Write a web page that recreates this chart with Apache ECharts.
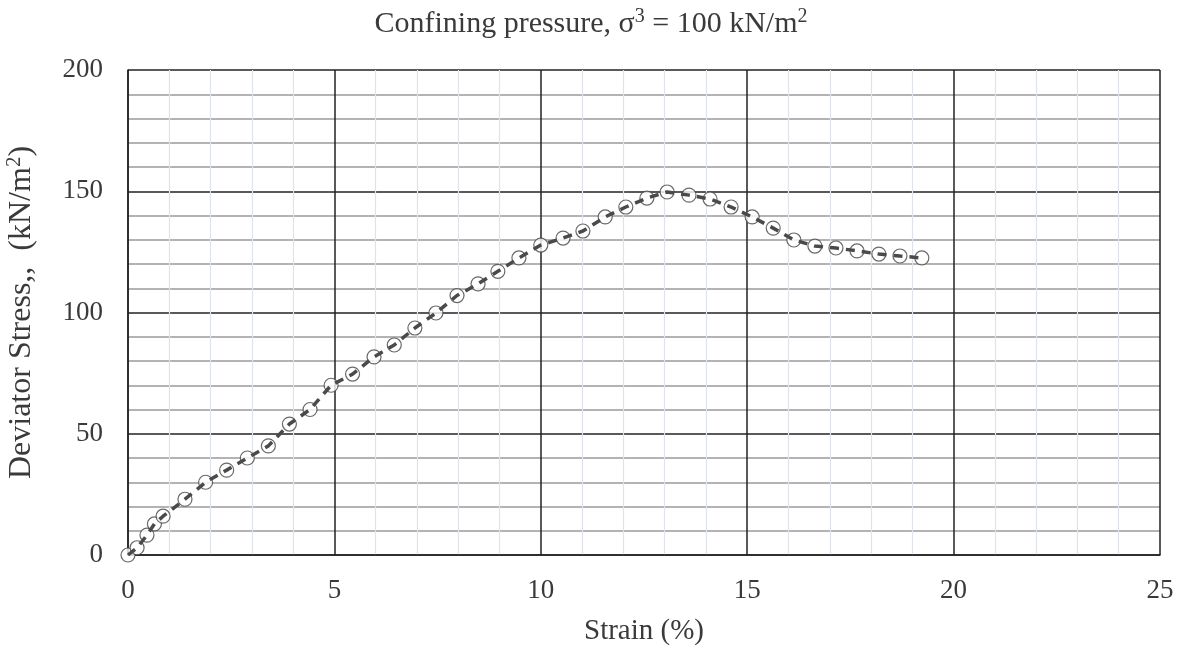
<!DOCTYPE html>
<html>
<head>
    <meta charset="utf-8">
    <title>ECharts</title>
    <script src="https://cdn.jsdelivr.net/npm/echarts@6/dist/echarts.min.js"></script>
</head>
<body style="margin:0; background:#fff;">
    <div id="main" style="width:1182px; height:653px;"></div>
    <script>
        // strain (%) and deviator stress (kN/m2)
        var strain = [0, 0.22, 0.46, 0.64, 0.85, 1.38, 1.88, 2.39, 2.89, 3.4,
            3.91, 4.41, 4.92, 5.44, 5.96, 6.45, 6.95, 7.46, 7.97, 8.48,
            8.96, 9.47, 10.0, 10.54, 11.02, 11.56, 12.06, 12.57, 13.06, 13.59,
            14.1, 14.61, 15.12, 15.63, 16.13, 16.64, 17.15, 17.66, 18.19, 18.7, 19.23]
        var stress = [0, 3, 8.2, 12.8, 16, 23, 30, 35, 40, 45,
            54, 60, 70, 74.6, 81.7, 86.6, 93.6, 99.8, 107, 111.8,
            117, 122.5, 127.8, 130.7, 133.6, 139.4, 143.5, 147.2, 149.7, 148.4,
            146.8, 143.5, 139.4, 134.8, 129.9, 127.4, 126.6, 125.4, 124.1, 123.3, 122.5]

        var points = strain.map(function(s, i) {
            return [s, stress[i]]
        })

        var font = 'Liberation Serif'
        var textColor = '#3a3a3a'

        var myChart = echarts.init(document.querySelector('#main'))

        var option = {
            backgroundColor: '#fff',
            animation: false,
            title: {
                text: 'Confining pressure, σ{sup|3} = 100 kN/m{sup|2}',
                left: 'center',
                top: 2,
                textStyle: {
                    fontFamily: font,
                    fontWeight: 'normal',
                    fontSize: 30,
                    lineHeight: 34,
                    color: textColor,
                    rich: {
                        sup: {fontFamily: font, fontSize: 20, color: textColor, verticalAlign: 'top', lineHeight: 34, padding: [0, 0, 12, 0]}
                    }
                }
            },
            grid: {
                left: 128,
                right: 22,
                top: 70,
                bottom: 98,
                containLabel: false,
                outerBoundsMode: 'none'
            },
            xAxis: {
                type: 'value',
                min: 0,
                max: 25,
                interval: 5,
                name: 'Strain (%)',
                nameLocation: 'middle',
                nameGap: 62,
                nameTextStyle: {fontFamily: font, fontSize: 29, color: textColor},
                axisLine: {lineStyle: {color: '#222', width: 1.5}},
                axisTick: {show: false},
                axisLabel: {fontFamily: font, fontSize: 27, color: textColor, margin: 22},
                splitLine: {lineStyle: {color: '#222', width: 1.5}},
                minorTick: {show: false, splitNumber: 5},
                minorSplitLine: {show: true, lineStyle: {color: '#dfe3ea', width: 1.2}}
            },
            yAxis: {
                type: 'value',
                min: 0,
                max: 200,
                interval: 50,
                name: 'Deviator Stress,,  (kN/m{sup|2})',
                nameLocation: 'middle',
                nameGap: 88,
                nameRotate: 90,
                nameTextStyle: {
                    fontFamily: font, fontSize: 32, color: textColor, lineHeight: 36,
                    rich: {
                        sup: {fontFamily: font, fontSize: 21, color: textColor, verticalAlign: 'top', lineHeight: 36, padding: [0, 0, 13, 0]}
                    }
                },
                axisLine: {lineStyle: {color: '#222', width: 1.5}},
                axisTick: {show: false},
                axisLabel: {fontFamily: font, fontSize: 27, color: textColor, margin: 25},
                splitLine: {lineStyle: {color: '#222', width: 1.5}},
                minorTick: {show: false, splitNumber: 5},
                minorSplitLine: {show: true, lineStyle: {color: '#9a9a9a', width: 1.5}}
            },
            series: [
                {
                    type: 'scatter',
                    data: points,
                    symbol: 'circle',
                    symbolSize: 14,
                    z: 2,
                    itemStyle: {color: '#fff', borderColor: '#444', borderWidth: 1.2}
                },
                {
                    type: 'line',
                    data: points,
                    showSymbol: false,
                    z: 3,
                    lineStyle: {color: '#4a4a4a', width: 3.5, type: [9, 7]}
                }
            ]
        }

        myChart.setOption(option)
    </script>
</body>
</html>
